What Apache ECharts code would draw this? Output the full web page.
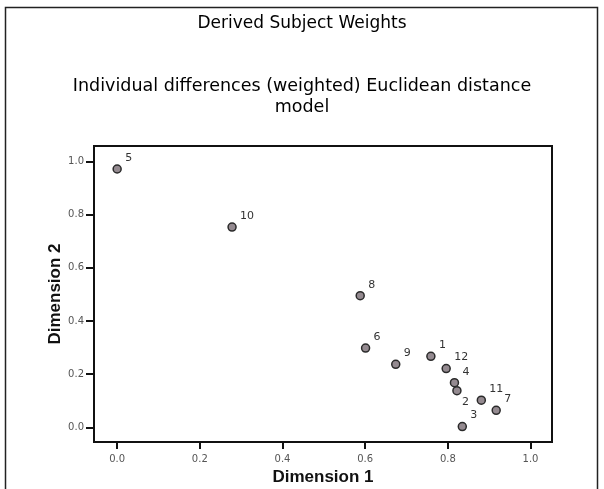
<!DOCTYPE html>
<html style="height: 100%">
    <head>
        <meta charset="utf-8">
        <script type="text/javascript" src="https://cdn.jsdelivr.net/npm/echarts@6/dist/echarts.min.js"></script>
    </head>
    <body style="height: 100%; margin: 0; background-color: #ffffff">
        <div id="container" style="width: 604px; height: 489px"></div>
        <script type="text/javascript">
        // subject numbers and their weights on the two dimensions
        var subjects = ['1', '2', '3', '4', '5', '6', '7', '8', '9', '10', '11', '12'];
        var dim1 = [0.759, 0.822, 0.835, 0.816, 0.000, 0.601, 0.917, 0.588, 0.674, 0.278, 0.881, 0.796];
        var dim2 = [0.267, 0.138, 0.003, 0.168, 0.971, 0.298, 0.064, 0.495, 0.237, 0.753, 0.102, 0.221];
        var tickValues = [0.0, 0.2, 0.4, 0.6, 0.8, 1.0];

        var dom = document.getElementById("container");
        var chart = echarts.init(dom);

        // label 2 sits under its point, the rest above-right
        var below = { '2': true };

        var points = [];
        for (var i = 0; i < subjects.length; i++) {
            var p = { name: subjects[i], value: [dim1[i], dim2[i]] };
            if (below[subjects[i]]) {
                p.label = { offset: [5, 11] };
            }
            points.push(p);
        }

        var titleFont = { fontSize: 17.5, fontWeight: 'normal', color: '#000', fontFamily: 'DejaVu Sans', lineHeight: 20 };
        var nameFont = { fontSize: 17, fontWeight: 'bold', color: '#111', fontFamily: 'Liberation Sans' };
        var tickFont = { color: '#555', fontSize: 10, fontFamily: 'DejaVu Sans' };

        var option = {
            animation: false,
            title: [
                { text: 'Derived Subject Weights', left: 'center', top: 14, padding: 0,
                  textStyle: Object.assign({}, titleFont, { fontSize: 17 }) },
                { text: 'Individual differences (weighted) Euclidean distance', left: 'center', top: 76, padding: 0,
                  textStyle: titleFont },
                { text: 'model', left: 'center', top: 97, padding: 0,
                  textStyle: titleFont }
            ],
            graphic: [{
                type: 'rect',
                shape: { x: 5.5, y: 7.5, width: 592, height: 500 },
                style: { fill: 'none', stroke: '#222', lineWidth: 1.5 },
                silent: true
            }],
            grid: {
                left: 94, top: 146, right: 52, bottom: 47,
                outerBoundsMode: 'none',
                show: true, borderColor: '#111', borderWidth: 2, backgroundColor: '#fff'
            },
            xAxis: {
                type: 'value',
                min: -0.056, max: 1.052,
                name: 'Dimension 1',
                nameLocation: 'middle', nameGap: 27,
                nameTextStyle: nameFont,
                axisLine: { show: true, onZero: false, lineStyle: { color: '#111', width: 2 } },
                axisTick: { show: true, length: 7, lineStyle: { color: '#111', width: 2 }, customValues: tickValues },
                axisLabel: Object.assign({ margin: 12, customValues: tickValues, formatter: function (v) { return v.toFixed(1); } }, tickFont),
                splitLine: { show: false }
            },
            yAxis: {
                type: 'value',
                min: -0.055, max: 1.0575,
                name: 'Dimension 2',
                nameLocation: 'middle', nameGap: 30, nameRotate: 90,
                nameMoveOverlap: false,
                nameTextStyle: nameFont,
                axisLine: { show: true, onZero: false, lineStyle: { color: '#111', width: 2 } },
                axisTick: { show: true, length: 8, lineStyle: { color: '#111', width: 2 }, customValues: tickValues },
                axisLabel: Object.assign({ margin: 10, customValues: tickValues, formatter: function (v) { return v.toFixed(1); } }, tickFont),
                splitLine: { show: false }
            },
            series: [{
                type: 'scatter',
                symbol: 'circle',
                symbolSize: 8,
                itemStyle: { color: '#948a90', borderColor: '#2a2a2a', borderWidth: 1.5, opacity: 1 },
                label: {
                    show: true,
                    position: 'inside',
                    offset: [8, -11],
                    align: 'left',
                    formatter: '{b}',
                    color: '#333',
                    fontSize: 11,
                    fontFamily: 'DejaVu Sans'
                },
                data: points
            }]
        };
        chart.setOption(option);
        </script>
    </body>
</html>
